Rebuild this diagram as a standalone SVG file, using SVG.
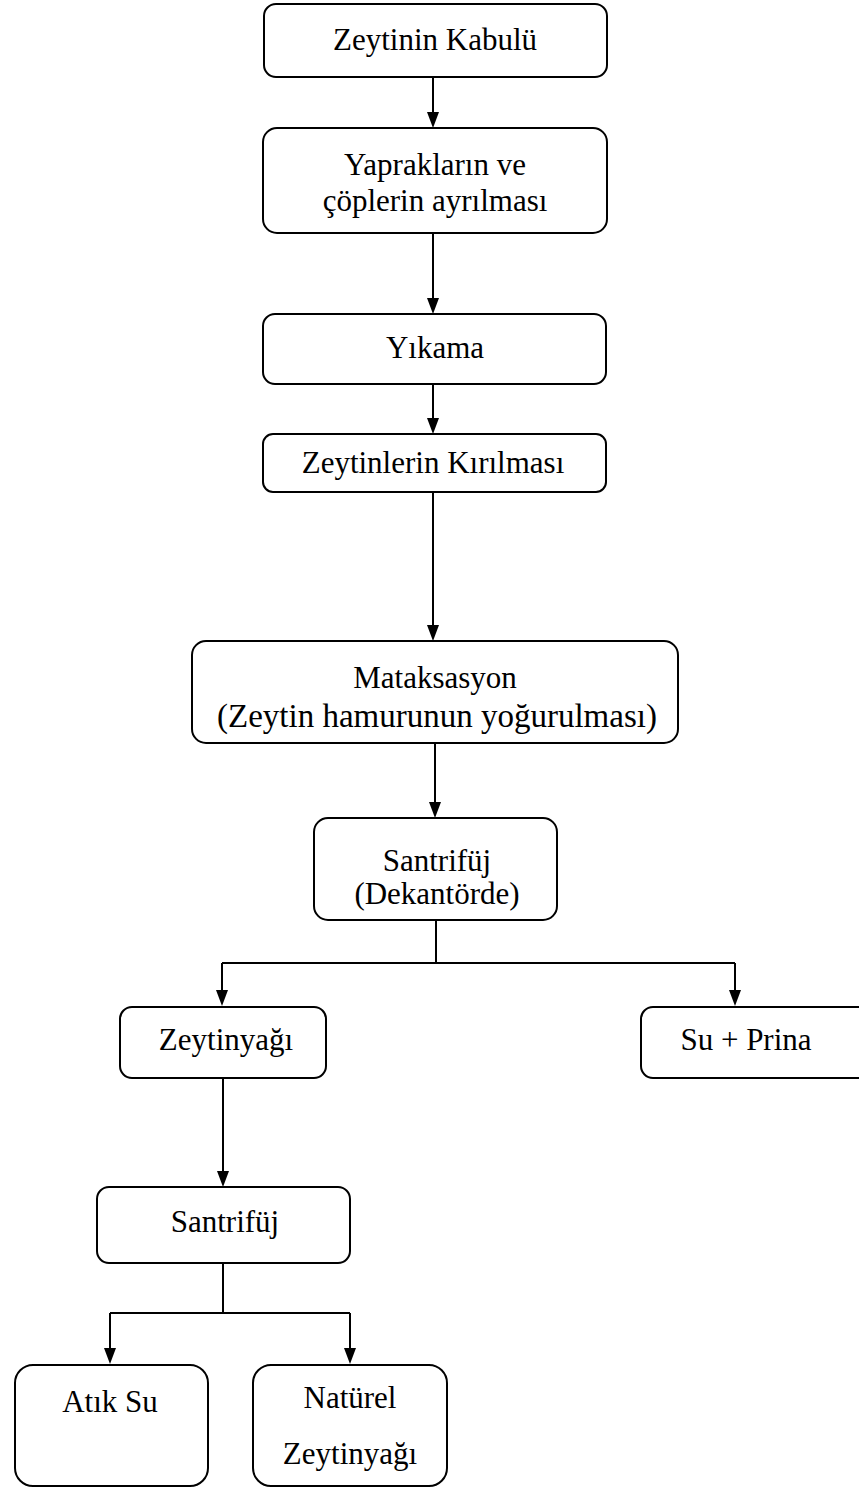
<svg xmlns="http://www.w3.org/2000/svg" width="859" height="1487" viewBox="0 0 859 1487">
<style>
.box{fill:#fff;stroke:#000;stroke-width:2}
.t{font-family:"Liberation Serif","Times New Roman",serif;font-size:31px;fill:#000;text-anchor:middle}
.c{fill:none;stroke:#000;stroke-width:2}
.h{fill:#000}
</style>
<rect width="859" height="1487" fill="#fff"/>
<g id="connectors">
<path class="c" d="M433,77 V112"/>
<path class="h" d="M427,112 H439 L433,128 Z"/>
<path class="c" d="M433,233 V298"/>
<path class="h" d="M427,298 H439 L433,314 Z"/>
<path class="c" d="M433,384 V418"/>
<path class="h" d="M427,418 H439 L433,434 Z"/>
<path class="c" d="M433,492 V625"/>
<path class="h" d="M427,625 H439 L433,641 Z"/>
<path class="c" d="M435,743 V802"/>
<path class="h" d="M429,802 H441 L435,818 Z"/>
<path class="c" d="M436,920 V963 M222,963 H735 M222,963 V990 M735,963 V990"/>
<path class="h" d="M216,990 H228 L222,1006 Z"/>
<path class="h" d="M729,990 H741 L735,1006 Z"/>
<path class="c" d="M223,1078 V1171"/>
<path class="h" d="M217,1171 H229 L223,1187 Z"/>
<path class="c" d="M223,1263 V1313 M110,1313 H350 M110,1313 V1348 M350,1313 V1348"/>
<path class="h" d="M104,1348 H116 L110,1364 Z"/>
<path class="h" d="M344,1348 H356 L350,1364 Z"/>
</g>
<g id="n1"><rect class="box" x="264" y="4" width="343" height="73" rx="12"/><text class="t" x="435" y="50">Zeytinin Kabulü</text></g>
<g id="n2"><rect class="box" x="263" y="128" width="344" height="105" rx="14"/><text class="t" x="435" y="175">Yaprakların ve</text><text class="t" x="435" y="211">çöplerin ayrılması</text></g>
<g id="n3"><rect class="box" x="263" y="314" width="343" height="70" rx="12"/><text class="t" x="435" y="358">Yıkama</text></g>
<g id="n4"><rect class="box" x="263" y="434" width="343" height="58" rx="10"/><text class="t" x="433" y="473">Zeytinlerin Kırılması</text></g>
<g id="n5"><rect class="box" x="192" y="641" width="486" height="102" rx="14"/><text class="t" x="435" y="688">Mataksasyon</text><text class="t" x="437" y="727" style="font-size:33px">(Zeytin hamurunun yoğurulması)</text></g>
<g id="n6"><rect class="box" x="314" y="818" width="243" height="102" rx="14"/><text class="t" x="437" y="871">Santrifüj</text><text class="t" x="437" y="904">(Dekantörde)</text></g>
<g id="n7"><rect class="box" x="120" y="1007" width="206" height="71" rx="12"/><text class="t" x="226" y="1050">Zeytinyağı</text></g>
<g id="n8"><rect class="box" x="641" y="1007" width="240" height="71" rx="12"/><text class="t" x="746" y="1050">Su + Prina</text></g>
<g id="n9"><rect class="box" x="97" y="1187" width="253" height="76" rx="12"/><text class="t" x="225" y="1232">Santrifüj</text></g>
<g id="n10"><rect class="box" x="15" y="1365" width="193" height="121" rx="18"/><text class="t" x="110" y="1412">Atık Su</text></g>
<g id="n11"><rect class="box" x="253" y="1365" width="194" height="121" rx="18"/><text class="t" x="350" y="1408">Natürel</text><text class="t" x="350" y="1464">Zeytinyağı</text></g>
</svg>
